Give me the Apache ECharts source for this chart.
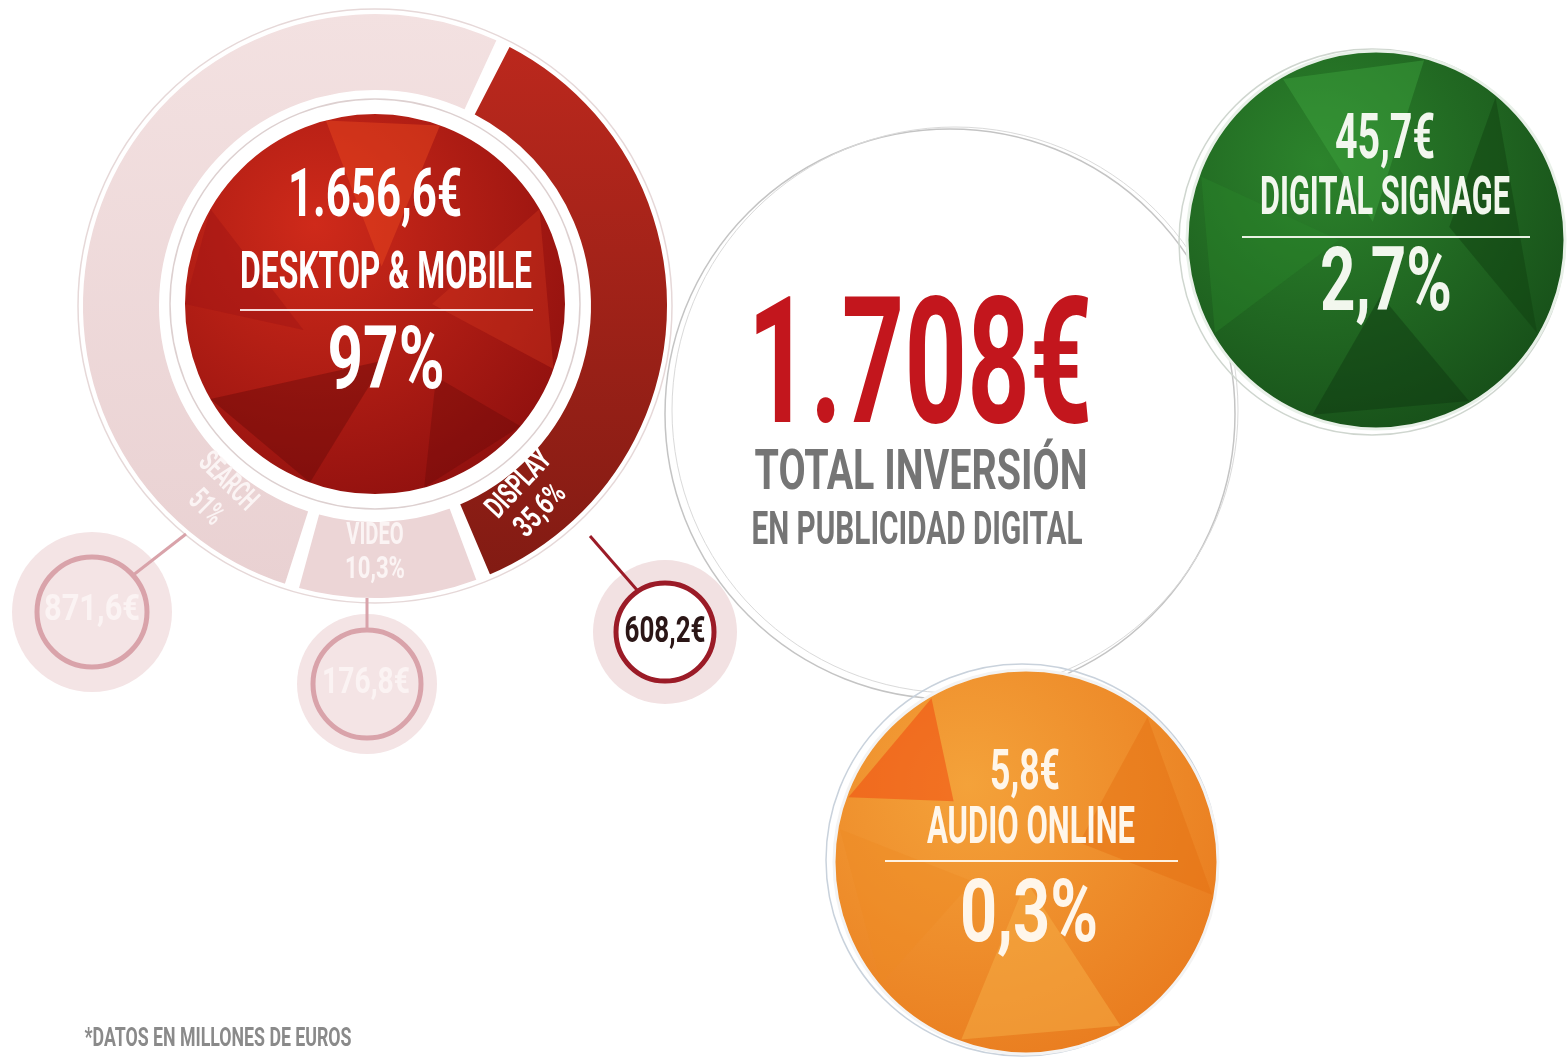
<!DOCTYPE html>
<html>
<head>
<meta charset="utf-8">
<script src="https://cdn.jsdelivr.net/npm/echarts@6/dist/echarts.min.js"></script>
<style>
  html, body { margin: 0; background: #fff; }
  #chart { width: 1567px; height: 1064px; }
</style>
</head>
<body>
<div id="chart"></div>
<script>
// data (millones de euros)
var segmentNames = ['DISPLAY', 'VIDEO', 'SEARCH'];
var segmentShares = [35.6, 10.3, 51];
var segmentShareLabels = ['35,6%', '10,3%', '51%'];
var segmentAmounts = ['608,2€', '176,8€', '871,6€'];
var channelNames = ['DESKTOP & MOBILE', 'DIGITAL SIGNAGE', 'AUDIO ONLINE'];
var channelAmounts = ['1.656,6€', '45,7€', '5,8€'];
var channelShares = ['97%', '2,7%', '0,3%'];
var totalAmount = '1.708€';
var totalTitle = ['TOTAL INVERSIÓN', 'EN PUBLICIDAD DIGITAL'];
var footnote = '*DATOS EN MILLONES DE EUROS';

var FONT = 'Roboto, "Liberation Sans", sans-serif';
var ringCenter = [375, 306];
var measure = document.createElement('canvas').getContext('2d');

// condensed look: measure the text and squeeze it to the wanted width
function label(text, cx, cy, capH, width, color, rot) {
    var size = Math.round(capH / 0.711);
    var font = 'bold ' + size + 'px ' + FONT;
    measure.font = font;
    var w = measure.measureText(text).width;
    return {
        type: 'text', x: cx, y: cy, rotation: rot || 0, scaleX: width / w, z: 30, silent: true,
        style: {
            text: text, font: font, fill: color,
            align: 'center', verticalAlign: 'middle',
            textAlign: 'center', textVerticalAlign: 'middle'
        }
    };
}

function circle(cx, cy, r, fill, stroke, lw, z) {
    return {
        type: 'circle', shape: { cx: cx, cy: cy, r: r }, z: z || 10, silent: true,
        style: { fill: fill || 'transparent', stroke: stroke || null, lineWidth: lw || 0 }
    };
}

function line(x1, y1, x2, y2, color, lw) {
    return {
        type: 'line', shape: { x1: x1, y1: y1, x2: x2, y2: y2 }, z: 12, silent: true,
        style: { stroke: color, lineWidth: lw }
    };
}

// triangle facets inside a circle, points as [angle clockwise from top, fraction of radius]
function facet(cx, cy, r, pts, color, alpha) {
    return {
        type: 'polygon', z: 11, silent: true,
        shape: {
            points: pts.map(function (p) {
                var a = p[0] * Math.PI / 180;
                return [cx + r * p[1] * Math.sin(a), cy - r * p[1] * Math.cos(a)];
            })
        },
        style: { fill: color, opacity: alpha }
    };
}

function radial(c0, c1) {
    return new echarts.graphic.RadialGradient(0.35, 0.3, 0.85, [
        { offset: 0, color: c0 }, { offset: 1, color: c1 }
    ]);
}

// position along the ring: angle clockwise from top
function ringPos(angle, r) {
    var a = angle * Math.PI / 180;
    return [ringCenter[0] + r * Math.sin(a), ringCenter[1] - r * Math.cos(a)];
}

var chart = echarts.init(document.getElementById('chart'));

var segmentColors = [
    new echarts.graphic.LinearGradient(0, 0, 0, 1, [
        { offset: 0, color: '#bb281d' }, { offset: 1, color: '#821b13' }
    ]),
    '#ecd5d6',
    new echarts.graphic.LinearGradient(0, 0, 0, 1, [
        { offset: 0, color: '#f3e1e1' }, { offset: 1, color: '#e9d1d2' }
    ])
];

var g = [];

// outline of the whole donut
g.push(circle(ringCenter[0], ringCenter[1], 297, null, '#e6d8d8', 1.5, 3));

// inner red circle
var rc = [375, 304];
g.push(circle(rc[0], rc[1], 205, null, '#ddd0d0', 1.5, 9));
g.push(circle(rc[0], rc[1], 195, radial('#cf2a1a', '#880d0d'), '#fff', 10, 10));
g.push(facet(rc[0], rc[1], 190, [[345, 1], [20, 1], [10, 0.2]], '#ec4a1e', 0.45));
g.push(facet(rc[0], rc[1], 190, [[200, 1], [170, 0.3], [240, 1]], '#5a0606', 0.35));
g.push(facet(rc[0], rc[1], 190, [[60, 1], [110, 1], [90, 0.3]], '#d83a20', 0.35));
g.push(facet(rc[0], rc[1], 190, [[270, 1], [300, 1], [250, 0.4]], '#a01414', 0.45));
g.push(facet(rc[0], rc[1], 190, [[130, 1], [165, 1], [140, 0.5]], '#5e0707', 0.3));

g.push(label(channelAmounts[0], 375, 199, 47, 174, '#fff'));
g.push(label(channelNames[0], 386, 275, 36, 292, '#fff'));
g.push(line(240, 310, 533, 310, '#f6dada', 2));
g.push(label(channelShares[0], 386, 366, 62, 117, '#fff'));

// value bubbles of the ring segments
// search
g.push(circle(92, 612, 80, '#f4e4e5', null, 0, 8));
g.push(circle(92, 612, 55, '#f4e4e5', '#d9a3aa', 5, 9));
g.push(line(186, 534, 132, 576, '#d9a3aa', 3));
g.push(label(segmentAmounts[2], 92, 611, 26, 96, '#fbf3f3'));
// video
g.push(circle(367, 684, 70, '#f4e4e5', null, 0, 8));
g.push(circle(367, 684, 54, '#f4e4e5', '#d9a3aa', 5, 9));
g.push(line(367, 598, 367, 630, '#d9a3aa', 3));
g.push(label(segmentAmounts[1], 366, 684, 26, 88, '#fbf3f3'));
// display
g.push(circle(665, 632, 72, '#f2e1e2', null, 0, 8));
g.push(circle(665, 632, 49, '#fff', '#9b1b27', 5, 9));
g.push(line(590, 536, 637, 590, '#9b1b27', 3));
g.push(label(segmentAmounts[0], 665, 633, 26, 81, '#2b1616'));

// ring labels, tangential
var ringLabels = [
    { i: 2, angle: 220, rot: -0.78 },
    { i: 1, angle: 180, rot: 0 },
    { i: 0, angle: 141, rot: 0.82 }
];
ringLabels.forEach(function (d) {
    var p1 = ringPos(d.angle, 230), p2 = ringPos(d.angle, 264);
    var col = d.i === 0 ? '#ffffff' : '#fbf4f4';
    g.push(label(segmentNames[d.i], p1[0], p1[1], 22, segmentNames[d.i].length * 11.5, col, d.rot));
    g.push(label(segmentShareLabels[d.i], p2[0], p2[1], 22, segmentShareLabels[d.i].length * 12, col, d.rot));
});

// big total circle
g.push(circle(950, 414, 285, null, '#c4c4c4', 1.5, 5));
g.push(circle(955, 410, 283, null, '#dadada', 1, 5));
g.push(label(totalAmount, 920, 378, 125, 345, '#c3161d'));
g.push(label(totalTitle[0], 921, 475, 39, 333, '#757575'));
g.push(label(totalTitle[1], 917, 532, 33, 331, '#757575'));

// digital signage
var gc = [1376, 240];
g.push(circle(gc[0] - 4, gc[1] + 2, 193, null, '#cfd6cf', 1.5, 6));
g.push(circle(gc[0], gc[1], 189, radial('#2c842c', '#154a17'), '#e8f0e8', 3, 7));
g.push(facet(gc[0], gc[1], 186, [[330, 1], [15, 1], [350, 0.1]], '#3ea43e', 0.45));
g.push(facet(gc[0], gc[1], 186, [[40, 1], [120, 1], [80, 0.4]], '#0f3d10', 0.45));
g.push(facet(gc[0], gc[1], 186, [[150, 1], [200, 1], [175, 0.3]], '#0c330e', 0.4));
g.push(facet(gc[0], gc[1], 186, [[240, 1], [290, 1], [270, 0.2]], '#2c8a2c', 0.35));
g.push(label(channelAmounts[1], 1385, 142, 45, 100, '#f2f7ee'));
g.push(label(channelNames[1], 1385, 201, 38, 250, '#f2f7ee'));
g.push(line(1242, 237, 1530, 237, '#e9f2e4', 2));
g.push(label(channelShares[1], 1386, 288, 63, 132, '#f2f7ee'));

// audio online
var oc = [1026, 862];
g.push(circle(oc[0] - 4, oc[1] - 2, 196, null, '#c9d2dc', 1.5, 6));
g.push(circle(oc[0], oc[1], 192, radial('#f4a23a', '#e8781c'), '#f3f3f3', 3, 7));
g.push(facet(oc[0], oc[1], 189, [[290, 1], [330, 1], [310, 0.5]], '#f04a10', 0.55));
g.push(facet(oc[0], oc[1], 189, [[200, 1], [150, 1], [180, 0.1]], '#f6ad45', 0.5));
g.push(facet(oc[0], oc[1], 189, [[40, 1], [100, 1], [70, 0.3]], '#e46f12', 0.45));
g.push(facet(oc[0], oc[1], 189, [[230, 1], [280, 1], [250, 0.3]], '#ee8a22', 0.4));
g.push(label(channelAmounts[2], 1025, 775, 40, 70, '#fff6ea'));
g.push(label(channelNames[2], 1031, 830, 36, 208, '#fff6ea'));
g.push(line(885, 861, 1178, 861, '#fff2e0', 2));
g.push(label(channelShares[2], 1029, 919, 62, 138, '#fff6ea'));

// footnote
g.push(label(footnote, 218, 1040, 18, 267, '#8a8a8a'));

chart.setOption({
    backgroundColor: '#ffffff',
    animation: false,
    graphic: { elements: g },
    series: [{
        type: 'pie',
        center: ringCenter,
        radius: [215, 293],
        startAngle: 64,
        padAngle: 2.5,
        clockwise: true,
        silent: true,
        z: 2,
        label: { show: false },
        labelLine: { show: false },
        itemStyle: { borderColor: '#ffffff', borderWidth: 2 },
        data: segmentNames.map(function (n, i) {
            return { name: n, value: segmentShares[i], itemStyle: { color: segmentColors[i] } };
        })
    }]
});
</script>
</body>
</html>
